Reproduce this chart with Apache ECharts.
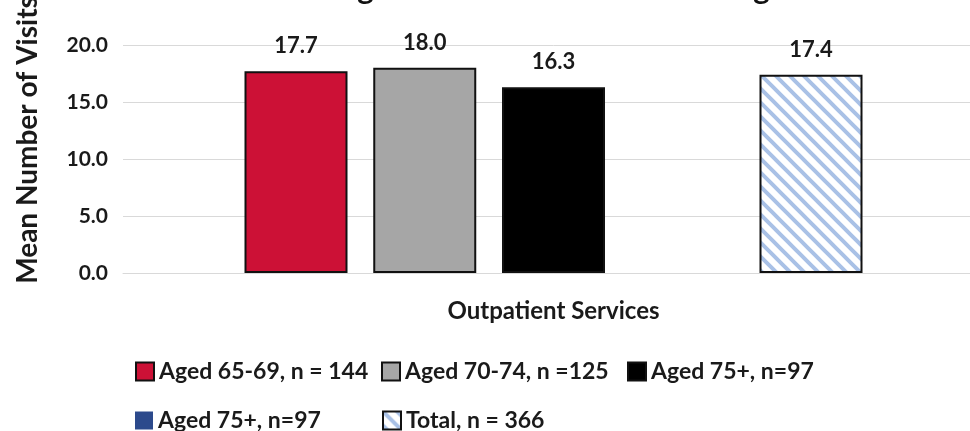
<!DOCTYPE html>
<html>
<head>
<meta charset="utf-8">
<script src="https://cdn.jsdelivr.net/npm/echarts@6/dist/echarts.min.js"></script>
<style>
  html, body { margin: 0; padding: 0; background: #ffffff; overflow: hidden; }
  #chart { width: 1000px; height: 431px; }
</style>
</head>
<body>
<div id="chart"></div>
<script>
// Chart data
const categories = ['Outpatient Services'];
const seriesNames = ['Aged 65-69, n = 144', 'Aged 70-74, n =125', 'Aged 75+, n=97', 'Aged 75+, n=97 ', 'Total, n = 366'];
const aged6569 = [17.7];
const aged7074 = [18.0];
const aged75 = [16.3];
const aged75b = [null];
const total = [17.4];
const yTicks = [0, 5, 10, 15, 20];
const titleText = 'Visits Among Older Adults Now Receiving';
const yAxisTitle = 'Mean Number of Visits';

const FONT = 'Lato, "Liberation Sans", sans-serif';

// Diagonal stripe pattern for the total bar
function stripePattern() {
  const s = 14;
  const c = document.createElement('canvas');
  c.width = s; c.height = s;
  const ctx = c.getContext('2d');
  ctx.fillStyle = '#ffffff';
  ctx.fillRect(0, 0, s, s);
  ctx.strokeStyle = '#a9c1e6';
  ctx.lineWidth = 4;
  ctx.beginPath();
  for (let k = -1; k <= 1; k++) {
    ctx.moveTo(k * s - 2, -2);
    ctx.lineTo(k * s + s + 2, s + 2);
  }
  ctx.stroke();
  return c;
}

const chart = echarts.init(document.getElementById('chart'), null, { renderer: 'canvas' });

const labelStyle = {
  show: true,
  position: 'top',
  distance: 14,
  fontFamily: FONT,
  fontWeight: 'bold',
  fontSize: 22,
  color: '#1a1a1a',
  formatter: p => p.value.toFixed(1)
};

function barSeries(name, data, itemStyle) {
  return {
    name: name,
    type: 'bar',
    data: data,
    barWidth: 103,
    barGap: '25%',
    itemStyle: Object.assign({ borderColor: '#111111', borderWidth: 2 }, itemStyle),
    label: labelStyle,
    emphasis: { disabled: true }
  };
}

const legendText = { fontFamily: FONT, fontWeight: 'bold', fontSize: 23, color: '#1a1a1a' };

// Legend laid out in a two-row grid, one entry per component
const legendSlots = [[130, 355], [376, 355], [622, 355], [130, 404], [377, 404]];
const legends = seriesNames.map((name, i) => ({
  data: [name],
  left: legendSlots[i][0],
  top: legendSlots[i][1],
  itemWidth: 18, itemHeight: 18,
  icon: 'rect',
  textStyle: legendText,
  selectedMode: false
}));

chart.setOption({
  animation: false,
  backgroundColor: '#ffffff',
  graphic: [{
    type: 'text',
    left: 191,
    top: -27,
    style: {
      text: titleText,
      font: 'bold 31px ' + FONT,
      fill: '#111111'
    }
  }, {
    type: 'text',
    x: 28,
    y: 140,
    rotation: Math.PI / 2,
    style: {
      text: yAxisTitle,
      font: 'bold 28px ' + FONT,
      fill: '#1a1a1a',
      align: 'center',
      verticalAlign: 'middle'
    }
  }],
  grid: { left: 123, top: 45, width: 861, height: 228, containLabel: false },
  legend: legends,
  xAxis: {
    type: 'category',
    data: categories,
    axisLine: { show: true, lineStyle: { color: '#d9d9d9', width: 1 } },
    axisTick: { show: false },
    axisLabel: { margin: 26, fontFamily: FONT, fontWeight: 'bold', fontSize: 24, color: '#1a1a1a' }
  },
  yAxis: {
    type: 'value',
    min: yTicks[0],
    max: yTicks[yTicks.length - 1],
    interval: 5,
    axisLine: { show: false },
    axisTick: { show: false },
    splitLine: { lineStyle: { color: '#d9d9d9', width: 1 } },
    axisLabel: {
      margin: 15,
      fontFamily: FONT, fontWeight: 'bold', fontSize: 21, color: '#1a1a1a',
      formatter: v => v.toFixed(1)
    }
  },
  series: [
    barSeries(seriesNames[0], aged6569, { color: '#cc1136' }),
    barSeries(seriesNames[1], aged7074, { color: '#a6a6a6' }),
    barSeries(seriesNames[2], aged75, { color: '#000000' }),
    barSeries(seriesNames[3], aged75b, { color: '#2c4a8c', borderWidth: 0 }),
    barSeries(seriesNames[4], total, { color: { image: stripePattern(), repeat: 'repeat' } })
  ]
});
</script>
</body>
</html>
